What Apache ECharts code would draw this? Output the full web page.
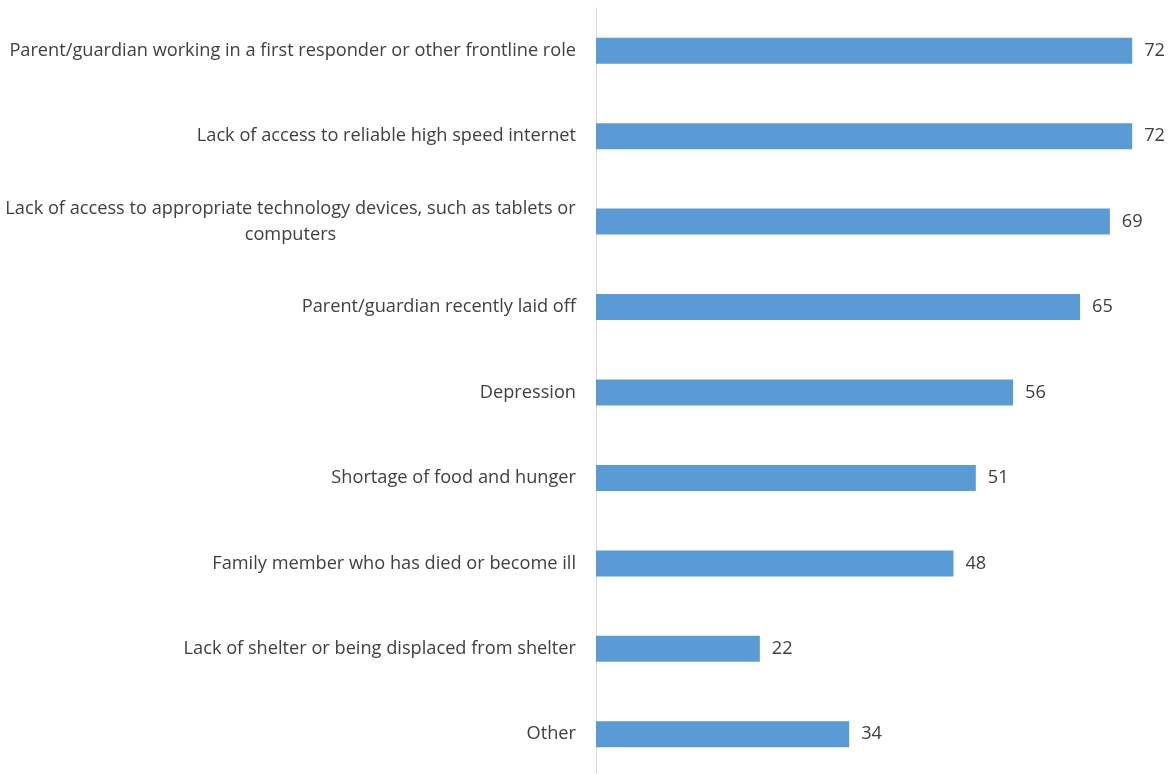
<!DOCTYPE html>
<html>
<head>
<meta charset="utf-8">
<title>Challenges</title>
<script src="https://cdn.jsdelivr.net/npm/echarts@6/dist/echarts.min.js"></script>
<style>
  html, body { margin: 0; padding: 0; background: #ffffff; }
  #chart { width: 1172px; height: 774px; }
</style>
</head>
<body>
<div id="chart"></div>
<script>
// Categories, top to bottom
const categories = [
  'Parent/guardian working in a first responder or other frontline role',
  'Lack of access to reliable high speed internet',
  'Lack of access to appropriate technology devices, such as tablets or\ncomputers',
  'Parent/guardian recently laid off',
  'Depression',
  'Shortage of food and hunger',
  'Family member who has died or become ill',
  'Lack of shelter or being displaced from shelter',
  'Other'
];

// Share of respondents for each category
const values = [72, 72, 69, 65, 56, 51, 48, 22, 34];

const FONT_FAMILY = '"Open Sans", sans-serif';
const FONT_SIZE = 18.2;

// Width of the widest line of a wrapped label, so its lines can be centred
function widestLine(text) {
  const ctx = document.createElement('canvas').getContext('2d');
  ctx.font = FONT_SIZE + 'px ' + FONT_FAMILY;
  return Math.ceil(Math.max.apply(null, text.split('\n').map(function (s) {
    return ctx.measureText(s).width;
  })));
}

const wrapped = categories.filter(function (c) { return c.indexOf('\n') >= 0; });
const wrapWidth = wrapped.length ? widestLine(wrapped[0]) : 0;

// Multi-line labels are centred line by line inside a fixed-width box
function labelFormatter(value) {
  if (value.indexOf('\n') >= 0) {
    return value.split('\n').map(function (s) { return '{w|' + s + '}'; }).join('\n');
  }
  return value;
}

const chart = echarts.init(document.getElementById('chart'), null, { renderer: 'canvas' });

chart.setOption({
  animation: false,
  grid: {
    left: 596, right: 10, top: 8, height: 769,
    containLabel: false,
    outerBoundsMode: 'none'
  },
  xAxis: {
    type: 'value',
    min: 0,
    max: 76,
    show: false,
    splitLine: { show: false }
  },
  yAxis: {
    type: 'category',
    data: categories,
    inverse: true,
    axisLine: { show: true, lineStyle: { color: '#d9d9d9', width: 1 } },
    axisTick: { show: false },
    axisLabel: {
      margin: 20,
      color: '#404040',
      fontFamily: FONT_FAMILY,
      fontSize: FONT_SIZE,
      lineHeight: 26,
      align: 'right',
      formatter: labelFormatter,
      rich: {
        w: {
          width: wrapWidth,
          align: 'center',
          color: '#404040',
          fontFamily: FONT_FAMILY,
          fontSize: FONT_SIZE,
          lineHeight: 26
        }
      }
    }
  },
  series: [{
    type: 'bar',
    data: values,
    barWidth: 26,
    itemStyle: { color: '#5b9bd5' },
    label: {
      show: true,
      position: 'right',
      distance: 12,
      color: '#404040',
      fontFamily: FONT_FAMILY,
      fontSize: FONT_SIZE
    }
  }]
});
</script>
</body>
</html>
